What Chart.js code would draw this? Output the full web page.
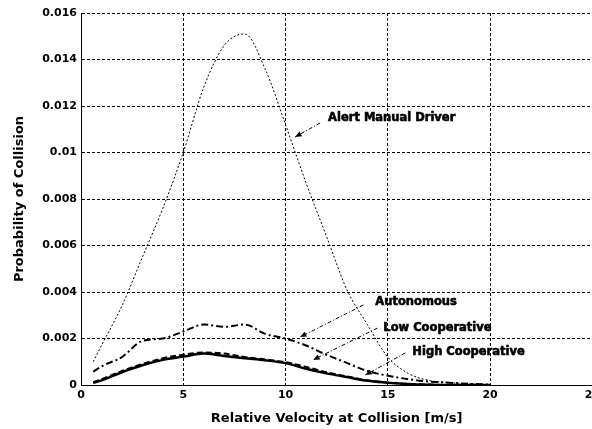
<!DOCTYPE html>
<html>
<head>
<meta charset="utf-8">
<script src="https://cdn.jsdelivr.net/npm/chart.js@4.4.1/dist/chart.umd.min.js"></script>
<style>
  html, body { margin: 0; padding: 0; background: #fff; overflow: hidden; }
  #wrap { position: relative; width: 592px; height: 429px; overflow: hidden; }
  #chart { position: absolute; left: 0; top: 0; }
</style>
</head>
<body>
<div id="wrap"><canvas id="chart" width="604" height="429"></canvas></div>
<script>
// relative velocity at collision [m/s]
var velocity = [0.6, 1, 2, 3, 4, 5, 6, 7, 8, 9, 10, 11, 12, 13, 14, 15, 16, 17, 18, 19, 20];

var alertManual = [0.0010, 0.0017, 0.0034, 0.0055, 0.0076, 0.0100, 0.0128, 0.0146, 0.0151, 0.0136, 0.0112,
                   0.0087, 0.0064, 0.0041, 0.0026, 0.0012, 0.0005, 0.0002, 0.0001, 0.00005, 0.0];
var autonomous = [0.00057, 0.0008, 0.0012, 0.0019, 0.0020, 0.0023, 0.0026, 0.0025, 0.0026, 0.0022, 0.0020,
                  0.0017, 0.0013, 0.00095, 0.0006, 0.0004, 0.00025, 0.00015, 0.0001, 0.00005, 0.00002];
var lowCoop = [0.00012, 0.00025, 0.0006, 0.0009, 0.00115, 0.0013, 0.0014, 0.00135, 0.0012, 0.0011, 0.00098,
               0.00078, 0.00055, 0.00037, 0.0002, 0.0001, 0.00005, 0.00002, 0.0, 0.0, 0.0];
var highCoop = [0.0001, 0.0002, 0.00055, 0.00085, 0.00108, 0.00122, 0.00135, 0.00125, 0.00115, 0.00106, 0.00094,
                0.0007, 0.0005, 0.00034, 0.00018, 0.0001, 0.00004, 0.00001, 0.0, 0.0, 0.0];

var xTicks = [0, 5, 10, 15, 20, 25];
var yTicks = [0, 0.002, 0.004, 0.006, 0.008, 0.01, 0.012, 0.014, 0.016];

// labels with arrows, in data units
var notes = [
  { text: 'Alert Manual Driver', at: [12.08, 0.01148], tail: [11.69, 0.01127], tip: [10.47, 0.01067] },
  { text: 'Autonomous', at: [14.39, 0.00357], tail: [13.8, 0.00344], tip: [10.71, 0.00206] },
  { text: 'Low Cooperative', at: [14.78, 0.00245], tail: [14.49, 0.00245], tip: [11.35, 0.00108] },
  { text: 'High Cooperative', at: [16.2, 0.00142], tail: [15.86, 0.00138], tip: [13.9, 0.00043] }
];

function pts(arr) {
  return velocity.map(function(v, i) { return { x: v, y: arr[i] }; });
}

var notePlugin = {
  id: 'notes',
  afterDatasetsDraw: function(chart) {
    var ctx = chart.ctx, xs = chart.scales.x, ys = chart.scales.y;
    ctx.save();
    notes.forEach(function(n) {
      var x0 = xs.getPixelForValue(n.tail[0]), y0 = ys.getPixelForValue(n.tail[1]);
      var x1 = xs.getPixelForValue(n.tip[0]), y1 = ys.getPixelForValue(n.tip[1]);
      ctx.strokeStyle = '#000';
      ctx.lineWidth = 1;
      ctx.setLineDash([4, 2, 1, 2]);
      ctx.beginPath();
      ctx.moveTo(x0, y0);
      ctx.lineTo(x1, y1);
      ctx.stroke();
      ctx.setLineDash([]);
      // arrow head
      var a = Math.atan2(y1 - y0, x1 - x0);
      ctx.beginPath();
      ctx.moveTo(x1, y1);
      ctx.lineTo(x1 - 7 * Math.cos(a - 0.4), y1 - 7 * Math.sin(a - 0.4));
      ctx.lineTo(x1 - 7 * Math.cos(a + 0.4), y1 - 7 * Math.sin(a + 0.4));
      ctx.closePath();
      ctx.fillStyle = '#000';
      ctx.fill();
      ctx.font = 'bold 11.5px "DejaVu Sans"';
      ctx.textBaseline = 'middle';
      ctx.textAlign = 'left';
      ctx.lineWidth = 0.6;
      var tx = xs.getPixelForValue(n.at[0]), ty = ys.getPixelForValue(n.at[1]);
      ctx.fillText(n.text, tx, ty);
      ctx.strokeText(n.text, tx, ty);
    });
    ctx.restore();
  }
};

var tickFont = { family: 'DejaVu Sans', weight: 'bold', size: 11 };
var titleFont = { family: 'DejaVu Sans', weight: 'bold', size: 13 };

var ctx = document.getElementById('chart').getContext('2d');
var myChart = new Chart(ctx, {
  type: 'line',
  data: {
    datasets: [
      { label: 'Alert Manual Driver', data: pts(alertManual), borderColor: '#000', borderWidth: 1,
        borderDash: [2, 2], pointRadius: 0, cubicInterpolationMode: 'monotone', fill: false },
      { label: 'Autonomous', data: pts(autonomous), borderColor: '#000', borderWidth: 2,
        borderDash: [7, 3, 2, 3], pointRadius: 0, cubicInterpolationMode: 'monotone', fill: false },
      { label: 'Low Cooperative', data: pts(lowCoop), borderColor: '#000', borderWidth: 2,
        borderDash: [6, 3], pointRadius: 0, cubicInterpolationMode: 'monotone', fill: false },
      { label: 'High Cooperative', data: pts(highCoop), borderColor: '#000', borderWidth: 2.5,
        pointRadius: 0, cubicInterpolationMode: 'monotone', fill: false }
    ]
  },
  options: {
    responsive: false,
    animation: false,
    devicePixelRatio: 1,
    layout: { padding: { top: 13, right: 0, left: 0, bottom: 0 } },
    plugins: { legend: { display: false }, tooltip: { enabled: false } },
    scales: {
      x: {
        type: 'linear', min: 0, max: 25,
        afterBuildTicks: function(s) { s.ticks = xTicks.map(function(v) { return { value: v }; }); },
        afterFit: function(s) { s.height = 44; },
        ticks: { color: '#000', font: tickFont, padding: 4, maxRotation: 0 },
        grid: { color: '#000', lineWidth: 1, drawTicks: false },
        border: { display: true, color: '#000', width: 1, dash: [3, 2] },
        title: { display: true, text: 'Relative Velocity at Collision [m/s]', color: '#000',
                 font: titleFont, padding: { top: 4, bottom: 3 } }
      },
      y: {
        type: 'linear', min: 0, max: 0.016,
        afterBuildTicks: function(s) { s.ticks = yTicks.map(function(v) { return { value: v }; }); },
        afterFit: function(s) { s.width = 81; },
        ticks: { color: '#000', font: tickFont, padding: 4,
                 callback: function(v) { return String(+v.toFixed(3)); } },
        grid: { color: '#000', lineWidth: 1, drawTicks: false },
        border: { display: true, color: '#000', width: 1, dash: [3, 2] },
        title: { display: true, text: 'Probability of Collision', color: '#000',
                 font: titleFont, padding: { top: 12, bottom: 4 } }
      }
    }
  },
  plugins: [notePlugin]
});
</script>
</body>
</html>
